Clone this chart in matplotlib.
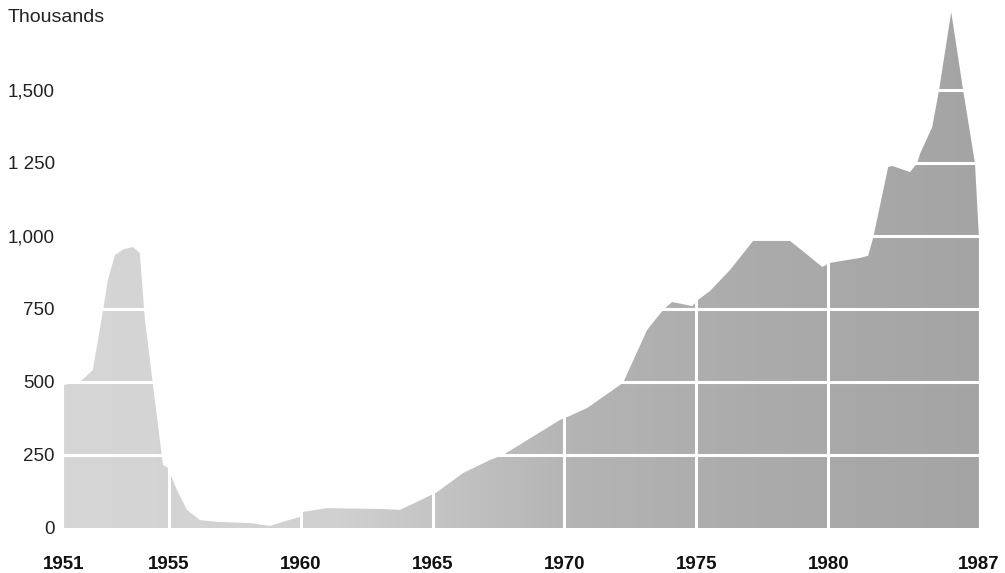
# Area chart: annual totals in thousands, 1951-1987
# Grey filled area with white grid lines cut through it

import numpy as np
import matplotlib.pyplot as plt
from matplotlib.colors import LinearSegmentedColormap

# ----------------------------- Data -----------------------------
years = [1951.03, 1951.63, 1952.12, 1952.46, 1952.69, 1952.96, 1953.30, 1953.64,
         1953.90, 1954.09, 1954.40, 1954.78, 1954.97, 1955.31, 1955.69, 1956.18,
         1956.83, 1958.08, 1958.84, 1959.33, 1959.97, 1960.08, 1960.99, 1963.11,
         1963.76, 1964.40, 1965.17, 1966.15, 1967.18, 1967.67, 1969.83, 1970.10,
         1970.86, 1971.35, 1972.22, 1973.13, 1973.74, 1974.08, 1974.84, 1975.06,
         1975.52, 1976.28, 1977.15, 1978.55, 1979.12, 1979.77, 1980.07, 1981.21,
         1981.51, 1981.70, 1982.27, 1982.42, 1983.10, 1983.37, 1983.49, 1983.94,
         1984.20, 1984.66, 1985.11, 1985.56, 1985.71]
values = [490, 500, 541, 719, 849, 935, 955, 962,
          942, 719, 490, 216, 205, 130, 62, 27,
          21, 17, 7, 21, 38, 55, 68, 65,
          62, 89, 123, 188, 233, 250, 370, 380,
          411, 442, 497, 678, 747, 774, 760, 781,
          812, 884, 983, 983, 942, 894, 908, 925,
          932, 993, 1236, 1240, 1219, 1250, 1284, 1373,
          1500, 1767, 1500, 1250, 997]

y_ticks = [0, 250, 500, 750, 1000, 1250, 1500]
y_labels = ['0', '250', '500', '750', '1,000', '1 250', '1,500']
x_ticks = [1951, 1955, 1960, 1965, 1970, 1975, 1980]
x_labels = ['1951', '1955', '1960', '1965', '1970', '1975', '1980', '1987']
grid_years = [1955, 1960, 1965, 1970, 1975, 1980]

# ----------------------------- Figure -----------------------------
plt.rcParams['font.family'] = ['Liberation Sans', 'DejaVu Sans']

W, H = 1005, 573
fig = plt.figure(figsize=(W / 100, H / 100), dpi=100)
ax = fig.add_axes([63 / W, (H - 528) / H, (990 - 63) / W, (528 - 5) / H])

x0, x1 = 1950.99, 1986.13
y0, y1 = 0, 1791
ax.set_xlim(x0, x1)
ax.set_ylim(y0, y1)

# fill shape (invisible), used as clip for the grey gradient
poly = ax.fill_between(years, values, 0, facecolor='none', edgecolor='none')

shade = LinearSegmentedColormap.from_list(
    'shade', [(0.0, '#d6d6d6'), (0.30, '#d0d0d0'), (0.42, '#c2c2c2'),
              (0.55, '#b4b4b4'), (0.75, '#ababab'), (1.0, '#a4a4a4')])
grad = np.linspace(0, 1, 512).reshape(1, -1)
im = ax.imshow(grad, cmap=shade, extent=[x0, x1, y0, y1], aspect='auto',
               origin='lower', zorder=1, interpolation='bilinear')
im.set_clip_path(poly.get_paths()[0], transform=ax.transData)

# white grid cut through the fill
for v in y_ticks[1:]:
    ax.axhline(v, color='white', lw=2.2, zorder=3)
for yr in grid_years:
    ax.axvline(yr, color='white', lw=2.2, zorder=3)

# ----------------------------- Axes text -----------------------------
ax.set_yticks(y_ticks)
ax.set_yticklabels(y_labels, fontsize=13.5, color='#222222')
ax.set_xticks(x_ticks + [years[-1]])
ax.set_xticklabels(x_labels, fontsize=13.5, fontweight='bold', color='#111111')
ax.tick_params(axis='y', length=0, pad=6)
ax.tick_params(axis='x', length=0, pad=20)
for s in ax.spines.values():
    s.set_visible(False)

fig.text(8 / W, 1 - 18 / H, 'Thousands', fontsize=14, color='#222222',
         ha='left', va='center')

fig.savefig('out.png', dpi=100)
plt.close(fig)
